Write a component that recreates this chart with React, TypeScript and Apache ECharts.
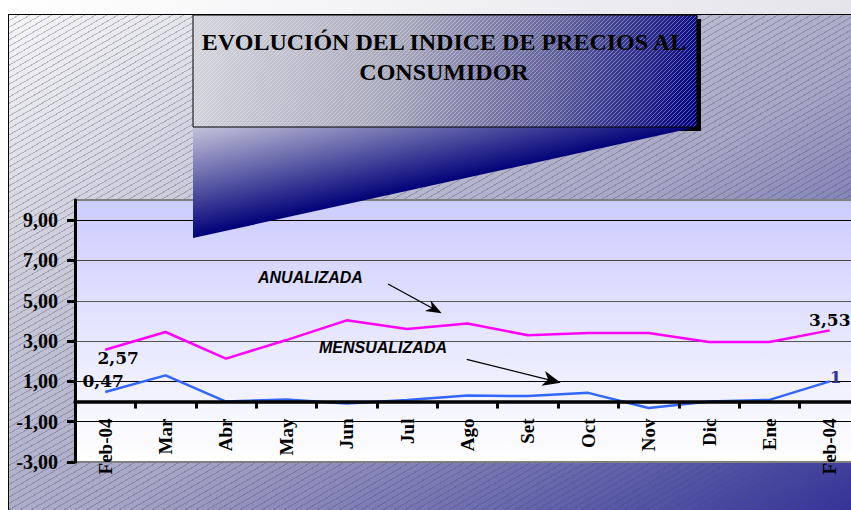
import React, { useEffect, useRef } from 'react';
import * as echarts from 'echarts';

const categories = ['Feb-04', 'Mar', 'Abr', 'May', 'Jun', 'Jul', 'Ago', 'Set', 'Oct', 'Nov', 'Dic', 'Ene', 'Feb-04'];
const anualizada = [2.57, 3.45, 2.13, 3.05, 4.03, 3.6, 3.87, 3.29, 3.4, 3.4, 2.95, 2.95, 3.53];
const mensualizada = [0.47, 1.3, 0.0, 0.1, -0.1, 0.08, 0.3, 0.27, 0.43, -0.32, 0.0, 0.08, 1.0];
const yMin = -3;
const yMax = 10;
const yStep = 2;
const titleLines = ['EVOLUCIÓN DEL INDICE DE PRECIOS AL', 'CONSUMIDOR'];
const annotAnual = 'ANUALIZADA';
const annotMens = 'MENSUALIZADA';

const GRID_TOP = 200;
const GRID_BOTTOM = 48;
const CHART_H = 510;

const fmtComma = (v: number) => String(v).replace('.', ',');

function arrow(x1: number, y1: number, x2: number, y2: number, len: number, half: number, notch: number) {
  const dx = x2 - x1;
  const dy = y2 - y1;
  const L = Math.sqrt(dx * dx + dy * dy);
  const ux = dx / L;
  const uy = dy / L;
  const px = -uy;
  const py = ux;
  const bx = x2 - ux * len;
  const by = y2 - uy * len;
  const nx = x2 - ux * (len - notch);
  const ny = y2 - uy * (len - notch);
  return [
    {
      type: 'line',
      shape: { x1, y1, x2: nx, y2: ny },
      style: { stroke: '#000', lineWidth: 1.3 },
      z: 100,
    },
    {
      type: 'polygon',
      shape: {
        points: [
          [x2, y2],
          [bx + px * half, by + py * half],
          [nx, ny],
          [bx - px * half, by - py * half],
        ],
      },
      style: { fill: '#000' },
      z: 100,
    },
  ];
}

function makeHatch(): string | null {
  try {
    const c = document.createElement('canvas');
    c.width = 4;
    c.height = 4;
    const g = c.getContext('2d');
    if (!g) return null;
    g.strokeStyle = 'rgba(255,255,255,0.35)';
    g.lineWidth = 1;
    g.beginPath();
    g.moveTo(-1, 5);
    g.lineTo(5, -1);
    g.stroke();
    return c.toDataURL();
  } catch (e) {
    return null;
  }
}

export default function App() {
  const ref = useRef<HTMLDivElement>(null);

  useEffect(() => {
    if (!ref.current) return;
    const chart = echarts.init(ref.current, undefined, { renderer: 'svg' });

    const labelBase = {
      fontFamily: 'DejaVu Serif',
      fontWeight: 'bold',
      fontSize: 17,
      color: '#000',
    };

    const last = categories.length - 1;
    const anualData = anualizada.map((v, i) => {
      if (i === 0) return { value: v, label: { show: true, position: 'bottom', distance: 0, offset: [13, 0], ...labelBase } };
      if (i === last) return { value: v, label: { show: true, position: 'top', distance: 2, ...labelBase } };
      return v;
    });
    const mensData = mensualizada.map((v, i) => {
      if (i === 0) return { value: v, label: { show: true, position: 'top', distance: 3, offset: [-2, 0], ...labelBase } };
      if (i === last) return { value: v, label: { show: true, position: 'right', distance: 0, offset: [0, -4], ...labelBase, color: '#333399' } };
      return v;
    });

    const boxGrad = new echarts.graphic.LinearGradient(193, 15, 697, 127, [
      { offset: 0, color: '#d4d4dc' },
      { offset: 0.4, color: '#a8a8bc' },
      { offset: 0.7, color: '#62629c' },
      { offset: 1, color: '#000080' },
    ], true);
    const calloutGrad = new echarts.graphic.LinearGradient(193, 127, 216, 233, [
      { offset: 0, color: '#c4c4da' },
      { offset: 1, color: '#000078' },
    ], true);

    const serif = 'Liberation Serif';
    const gridH = CHART_H - GRID_TOP - GRID_BOTTOM;
    const zeroOffset = -((0 - yMin) / (yMax - yMin)) * gridH;

    const hatch = makeHatch();
    const hatchEls: any[] = hatch
      ? [
          {
            type: 'rect',
            shape: { x: 193, y: 15, width: 504, height: 112 },
            style: { fill: { image: hatch, repeat: 'repeat' } },
            silent: true,
            z: 52,
          },
        ]
      : [];

    chart.setOption({
      animation: false,
      backgroundColor: 'transparent',
      grid: {
        left: 75,
        right: -9,
        top: GRID_TOP,
        bottom: GRID_BOTTOM,
        show: true,
        backgroundColor: new echarts.graphic.LinearGradient(0, 0, 0, 1, [
          { offset: 0, color: '#ccccff' },
          { offset: 1, color: '#ffffff' },
        ]),
        borderColor: '#808080',
        borderWidth: 2,
        containLabel: false,
        outerBoundsMode: 'none',
      },
      xAxis: {
        type: 'category',
        data: categories,
        boundaryGap: true,
        offset: zeroOffset,
        axisLine: { onZero: false, lineStyle: { color: '#000', width: 3.5 } },
        axisTick: { show: true, length: 7, lineStyle: { color: '#000', width: 3 } },
        axisLabel: {
          rotate: 90,
          margin: 17,
          interval: 0,
          fontFamily: serif,
          fontWeight: 'bold',
          fontSize: 19,
          color: '#000',
        },
        splitLine: { show: false },
        z: 10,
      },
      yAxis: {
        type: 'value',
        min: yMin,
        max: yMax,
        interval: yStep,
        axisLine: { show: true, lineStyle: { color: '#000', width: 3 } },
        axisTick: { show: true, length: 8, lineStyle: { color: '#000', width: 3 } },
        axisLabel: {
          margin: 17,
          showMaxLabel: false,
          fontFamily: serif,
          fontWeight: 'bold',
          fontSize: 20,
          color: '#000',
          formatter: (v: number) => v.toFixed(2).replace('.', ','),
        },
        splitLine: {
          show: true,
          lineStyle: {
            color: ['#808080', '#000', '#000', '#555', '#555', '#444', '#000', '#808080'],
            width: 1.2,
          },
        },
      },
      series: [
        {
          name: 'Anualizada',
          type: 'line',
          data: anualData,
          symbol: 'circle',
          symbolSize: 0.1,
          showSymbol: true,
          lineStyle: { color: '#ff00ff', width: 2.5 },
          itemStyle: { color: '#ff00ff' },
          label: { show: false, formatter: (p: any) => fmtComma(p.value) },
          z: 5,
        },
        {
          name: 'Mensualizada',
          type: 'line',
          data: mensData,
          symbol: 'circle',
          symbolSize: 0.1,
          showSymbol: true,
          lineStyle: { color: '#3366ff', width: 2.5 },
          itemStyle: { color: '#3366ff' },
          label: { show: false, formatter: (p: any) => fmtComma(p.value) },
          z: 5,
        },
      ],
      graphic: [
        {
          type: 'rect',
          shape: { x: 197, y: 19, width: 504, height: 112 },
          style: { fill: '#000' },
          z: 50,
        },
        {
          type: 'polygon',
          shape: { points: [[193, 127], [697, 127], [193, 238]] },
          style: { fill: calloutGrad },
          z: 51,
        },
        {
          type: 'rect',
          shape: { x: 193, y: 15, width: 504, height: 112 },
          style: { fill: boxGrad },
          z: 52,
        },
        ...hatchEls,
        {
          type: 'rect',
          shape: { x: 193, y: 15, width: 504, height: 112 },
          style: { fill: 'none', stroke: '#000', lineWidth: 1 },
          z: 52,
        },
        {
          type: 'text',
          x: 444,
          y: 41.5,
          style: {
            text: titleLines[0],
            fontFamily: serif,
            fontWeight: 'bold',
            fontSize: 24,
            fill: '#000',
            align: 'center',
            verticalAlign: 'middle',
            textAlign: 'center',
            textVerticalAlign: 'middle',
          },
          z: 53,
        },
        {
          type: 'text',
          x: 444,
          y: 71.5,
          style: {
            text: titleLines[1],
            fontFamily: serif,
            fontWeight: 'bold',
            fontSize: 24,
            fill: '#000',
            align: 'center',
            verticalAlign: 'middle',
            textAlign: 'center',
            textVerticalAlign: 'middle',
          },
          z: 53,
        },
        {
          type: 'text',
          x: 258,
          y: 277,
          style: {
            text: annotAnual,
            fontFamily: 'Liberation Sans',
            fontWeight: 'bold',
            fontStyle: 'italic',
            fontSize: 16,
            fill: '#000',
            align: 'left',
            verticalAlign: 'middle',
            textAlign: 'left',
            textVerticalAlign: 'middle',
          },
          z: 100,
        },
        {
          type: 'text',
          x: 319,
          y: 347,
          style: {
            text: annotMens,
            fontFamily: 'Liberation Sans',
            fontWeight: 'bold',
            fontStyle: 'italic',
            fontSize: 16,
            fill: '#000',
            align: 'left',
            verticalAlign: 'middle',
            textAlign: 'left',
            textVerticalAlign: 'middle',
          },
          z: 100,
        },
        ...arrow(388, 284, 441.7, 313.3, 16, 6, 5),
        ...arrow(466.7, 359.3, 560.7, 382.7, 18, 7.5, 5),
      ],
    });

    return () => {
      chart.dispose();
    };
  }, []);

  return (
    <div
      style={{
        position: 'fixed',
        left: 0,
        top: 0,
        width: 851,
        height: 510,
        overflow: 'hidden',
        background: 'linear-gradient(to right, #ffffff, #e4e4ea)',
      }}
    >
      <div
        style={{
          position: 'absolute',
          left: 8,
          top: 14,
          right: -2,
          bottom: -2,
          borderTop: '1.5px solid #000',
          borderLeft: '1.5px solid #000',
          background:
            'repeating-linear-gradient(150deg, rgba(0,0,0,0) 0px, rgba(0,0,0,0) 4.5px, rgba(70,70,95,0.32) 4.5px, rgba(70,70,95,0.32) 5.5px), linear-gradient(to bottom right, #f6f6f8 0%, #c8c8d8 30%, #a6a6c6 55%, #32329a 100%)',
        }}
      />
      <div ref={ref} style={{ position: 'absolute', left: 0, top: 0, width: 851, height: 510 }} />
    </div>
  );
}
